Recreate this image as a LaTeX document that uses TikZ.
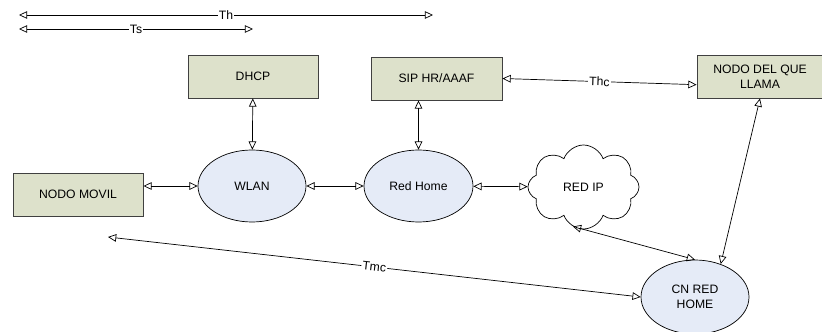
\documentclass[tikz,border=0pt]{standalone}
\usepackage{fontspec}
\setmainfont{Liberation Sans}
\usetikzlibrary{arrows.meta,shapes.geometric,shapes.symbols}
\definecolor{boxfill}{RGB}{221,225,203}
\definecolor{ovalfill}{RGB}{229,235,247}
\tikzset{
  >={Triangle[open,length=7pt,width=6.5pt]},
  txt/.style={font=\fontsize{10.4}{12.5}\selectfont},
  server/.style={txt, rectangle, draw=black!75, line width=0.8pt, fill=boxfill,
    minimum width=3.9cm, minimum height=1.29cm, align=center},
  net/.style={txt, ellipse, draw=black, line width=0.6pt, fill=ovalfill,
    inner sep=0pt, align=center},
  link/.style={<->, line width=0.6pt},
  lbl/.style={txt, fill=white, inner sep=1pt}
}
\begin{document}
\begin{tikzpicture}
\useasboundingbox (0,0) rectangle (24.66,9.93);
% time bars
\coordinate (thL) at (0.57,9.48);
\coordinate (thR) at (12.99,9.48);
\coordinate (tsL) at (0.57,9.06);
\coordinate (tsR) at (7.59,9.06);
\draw[link] (thL)--(thR) node[lbl,midway] (th) {Th};
\draw[link] (tsL)--(tsR) node[lbl,midway] (ts) {Ts};
% servers
\node[server] (dhcp) at (7.59,7.635) {DHCP};
\node[server, minimum width=3.93cm] (sip) at (13.095,7.575) {SIP HR/AAAF};
\node[server, minimum width=3.78cm] (llama) at (22.8,7.635) {NODO DEL QUE\\LLAMA};
\node[server] (movil) at (2.34,4.095) {NODO MOVIL};
% networks
\node[net, minimum width=3.24cm, minimum height=2.16cm] (wlan) at (7.56,4.35) {WLAN};
\node[net, minimum width=3.27cm, minimum height=2.16cm] (home) at (12.555,4.35) {Red Home};
\node[txt, cloud, cloud puffs=8, cloud puff arc=140, draw=black, line width=0.6pt,
  fill=white, minimum width=3.33cm, minimum height=2.52cm] (redip) at (17.505,4.32) {RED IP};
\node[net, minimum width=3.24cm, minimum height=2.22cm] (cn) at (20.85,1.02) {CN RED\\HOME};
% links
\draw[link] (movil.east |- wlan) -- (wlan);
\draw[link] (wlan) -- (home);
\draw[link] (home) -- (redip);
\draw[link] (dhcp) -- (wlan);
\draw[link] (home |- sip.south) -- (home);
\draw[link] (sip.east) -- ([yshift=-7pt]llama.west) node[lbl,midway,sloped] (thc) {Thc};
\draw[link] (llama.south) -- (cn.52);
\draw[link] (redip.-105) -- (cn.north);
\coordinate (tmcL) at (3.24,2.82);
\draw[link] (tmcL) -- (cn.west) node[lbl,midway,sloped] (tmc) {Tmc};
\end{tikzpicture}
\end{document}
